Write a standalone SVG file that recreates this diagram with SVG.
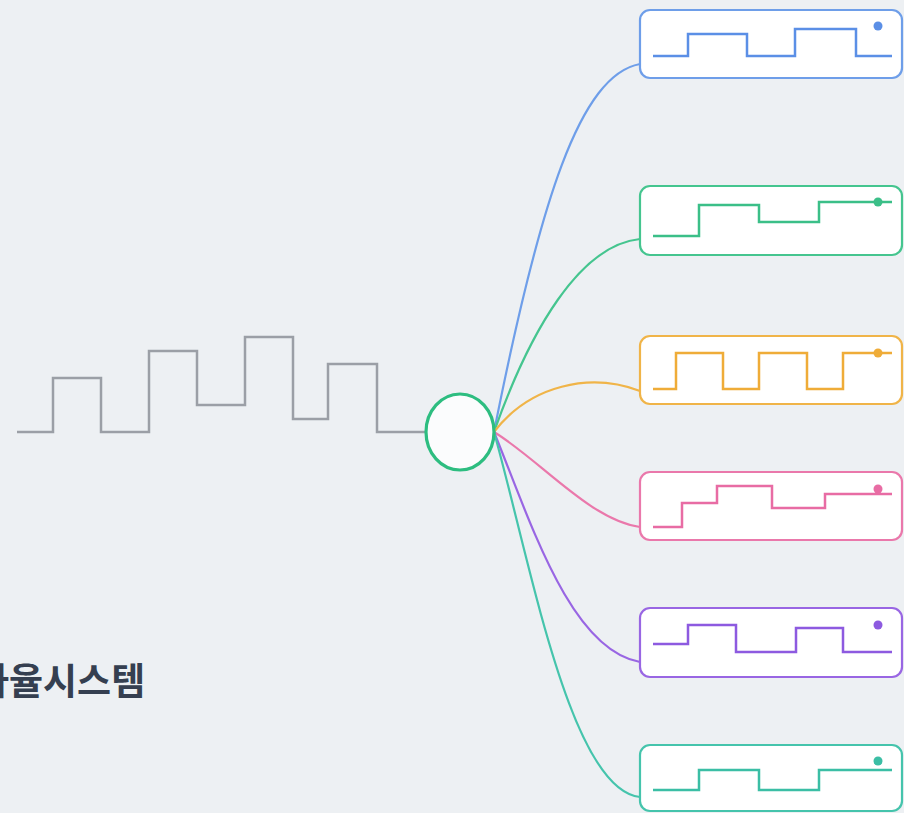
<svg xmlns="http://www.w3.org/2000/svg" width="904" height="813" viewBox="0 0 904 813">
<defs>
<style>
.box{fill:#ffffff;stroke-width:2.2}
.wave{fill:none;stroke-width:2.5;stroke-linejoin:miter}
.conn{fill:none;stroke-width:2.2}
.title{font-family:"Noto Sans CJK KR","Noto Sans",sans-serif;font-weight:700;font-size:37px;fill:#353f50}
</style>
</defs>
<rect width="904" height="813" fill="#edf0f3"/>
<g id="connectors">
<path class="conn" stroke="#6e9ee9" d="M494,432 C540,200 580,75 640,64"/>
<path class="conn" stroke="#45c58f" d="M494,432 C530,330 580,245 640,239"/>
<path class="conn" stroke="#f0b448" d="M494,432 C530,385 590,372 640,391"/>
<path class="conn" stroke="#ea78ab" d="M494,432 C540,460 590,520 640,527"/>
<path class="conn" stroke="#9966e3" d="M494,432 C530,520 570,650 640,662"/>
<path class="conn" stroke="#45c4ac" d="M494,432 C530,560 570,790 640,797"/>
</g>
<g id="source-signal">
<polyline class="wave" stroke="#9b9fa6" stroke-width="3.2" points="17,432 53,432 53,378 101,378 101,432 149,432 149,351 197,351 197,405 245,405 245,337 293,337 293,419 328,419 328,364 377,364 377,432 427,432"/>
</g>
<g id="hub">
<ellipse cx="460" cy="432" rx="34" ry="38" fill="#fbfcfd" stroke="#2dbd80" stroke-width="3.2"/>
</g>
<g id="title">
<text class="title" x="-25" y="695">자율시스템</text>
</g>
<g id="node-1">
<rect class="box" x="640" y="10" width="262" height="68" rx="10" stroke="#6e9ee9"/>
<polyline class="wave" stroke="#5b8fe6" points="653,56 688,56 688,34 747,34 747,56 795,56 795,29 856,29 856,56 892,56"/>
<circle cx="878" cy="26" r="4.5" fill="#5b8fe6"/>
</g>
<g id="node-2">
<rect class="box" x="640" y="186" width="262" height="69" rx="10" stroke="#45c58f"/>
<polyline class="wave" stroke="#3bbf88" points="653,236 699,236 699,205 759,205 759,222 819,222 819,202 892,202"/>
<circle cx="878" cy="202" r="4.5" fill="#3bbf88"/>
</g>
<g id="node-3">
<rect class="box" x="640" y="336" width="262" height="68" rx="10" stroke="#f0b448"/>
<polyline class="wave" stroke="#efac38" points="653,389 676,389 676,353 723,353 723,389 759,389 759,353 807,353 807,389 843,389 843,353 892,353"/>
<circle cx="878" cy="353" r="4.5" fill="#efac38"/>
</g>
<g id="node-4">
<rect class="box" x="640" y="472" width="262" height="68" rx="10" stroke="#ea78ab"/>
<polyline class="wave" stroke="#e86ca4" points="653,527 682,527 682,503 717,503 717,486 772,486 772,508 825,508 825,494 892,494"/>
<circle cx="878" cy="489" r="4.5" fill="#e86ca4"/>
</g>
<g id="node-5">
<rect class="box" x="640" y="608" width="262" height="69" rx="10" stroke="#9966e3"/>
<polyline class="wave" stroke="#8d5ae0" points="653,644 688,644 688,625 736,625 736,652 796,652 796,628 843,628 843,652 892,652"/>
<circle cx="878" cy="625" r="4.5" fill="#8d5ae0"/>
</g>
<g id="node-6">
<rect class="box" x="640" y="745" width="262" height="66" rx="10" stroke="#45c4ac"/>
<polyline class="wave" stroke="#3bbea5" points="653,790 699,790 699,770 759,770 759,790 819,790 819,770 892,770"/>
<circle cx="878" cy="761" r="4.5" fill="#3bbea5"/>
</g>
</svg>
